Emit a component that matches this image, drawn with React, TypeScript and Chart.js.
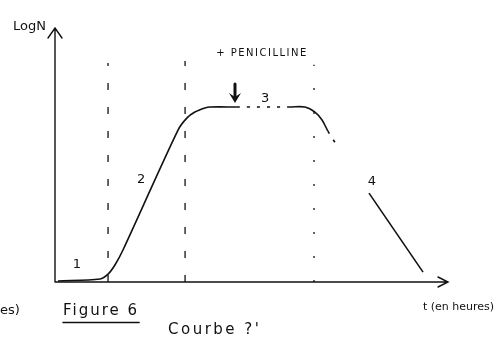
import { useEffect, useRef } from "react";
import { Chart, registerables } from "chart.js";

Chart.register(...registerables);

// Growth curve: time in hours, log N
const growthHours = [0.15, 2.29, 2.7, 3.05, 3.46, 6.26, 6.72, 7.12, 7.63, 7.89, 9.26, 11.96, 12.72, 13.23, 13.59, 13.89, 14.3];
const growthLogN = [0.04, 0.12, 0.31, 0.67, 1.26, 5.98, 6.46, 6.69, 6.85, 6.89, 6.89, 6.89, 6.89, 6.69, 6.38, 5.94, 5.43];
// segments of the curve drawn dashed (index of segment start)
const dashedSegments = [10, 15];

// Decline phase
const declineHours = [15.98, 18.73];
const declineLogN = [3.5, 0.39];

// Phase boundaries (vertical dashed lines)
const boundaryHours = [2.7, 6.62, 13.18];
const boundaryTop = [8.62, 8.7, 8.55];
const boundaryDash = [[7, 17], [7, 17], [2, 22]];

// Phase numbers
const phaseLabels = ["1", "2", "3", "4"];
const phaseLabelHours = [1.12, 4.38, 10.69, 16.13];
const phaseLabelLogN = [0.67, 4.02, 7.2, 3.94];

// Penicillin addition
const penicillinHour = 9.16;
const penicillinLogN = [7.8, 7.05];
const penicillinText = "+ PENICILLINE";

const xMax = 20;
const yMax = 10;

const FONT = "'DejaVu Sans', sans-serif";

const sketchPlugin = {
  id: "sketch",
  afterDatasetsDraw(chart: any) {
    const { ctx, chartArea, scales } = chart;
    const xs = scales.x;
    const ys = scales.y;
    const x0 = xs.getPixelForValue(0);
    const y0 = ys.getPixelForValue(0);
    const top = chartArea.top;
    const right = chartArea.right;
    ctx.save();
    ctx.strokeStyle = "#111";
    ctx.fillStyle = "#111";
    ctx.lineWidth = 1.4;
    ctx.lineCap = "round";

    // axes
    ctx.beginPath();
    ctx.moveTo(x0, y0);
    ctx.lineTo(x0, top);
    ctx.moveTo(x0, y0);
    ctx.lineTo(right, y0);
    // arrow heads
    ctx.moveTo(x0 - 7, top + 10);
    ctx.lineTo(x0, top);
    ctx.lineTo(x0 + 7, top + 10);
    ctx.moveTo(right - 10, y0 - 5);
    ctx.lineTo(right, y0);
    ctx.lineTo(right - 10, y0 + 5);
    ctx.stroke();

    // phase numbers
    ctx.font = `13px ${FONT}`;
    ctx.textAlign = "center";
    ctx.textBaseline = "middle";
    phaseLabels.forEach((lab, i) => {
      ctx.fillText(lab, xs.getPixelForValue(phaseLabelHours[i]), ys.getPixelForValue(phaseLabelLogN[i]));
    });

    // penicillin arrow
    const ax = xs.getPixelForValue(penicillinHour);
    const ayTop = ys.getPixelForValue(penicillinLogN[0]);
    const ayTip = ys.getPixelForValue(penicillinLogN[1]);
    ctx.lineWidth = 3;
    ctx.beginPath();
    ctx.moveTo(ax, ayTop);
    ctx.lineTo(ax, ayTip - 6);
    ctx.stroke();
    ctx.beginPath();
    ctx.moveTo(ax - 6, ayTip - 10);
    ctx.lineTo(ax, ayTip);
    ctx.lineTo(ax + 6, ayTip - 10);
    ctx.lineTo(ax, ayTip - 6);
    ctx.closePath();
    ctx.fill();

    ctx.font = `10px ${FONT}`;
    ctx.letterSpacing = "1.5px";
    ctx.fillText(penicillinText, ax + 27, top + 25);
    ctx.letterSpacing = "0px";

    // axis titles
    ctx.textAlign = "left";
    ctx.textBaseline = "alphabetic";
    ctx.font = `13px ${FONT}`;
    ctx.fillText("LogN", x0 - 42, top + 2);
    ctx.font = `11px ${FONT}`;
    ctx.fillText("t (en heures)", right - 25, y0 + 28);

    // caption
    ctx.font = `13px ${FONT}`;
    ctx.fillText("es)", 0, y0 + 32);
    ctx.font = `15px ${FONT}`;
    ctx.letterSpacing = "2px";
    ctx.fillText("Figure 6", x0 + 8, y0 + 33);
    const w = ctx.measureText("Figure 6").width;
    ctx.lineWidth = 1.5;
    ctx.beginPath();
    ctx.moveTo(x0 + 8, Math.round(y0 + 40) + 0.5);
    ctx.lineTo(x0 + 8 + w, Math.round(y0 + 40) + 0.5);
    ctx.stroke();
    ctx.letterSpacing = "2.5px";
    ctx.fillText("Courbe ?'", x0 + 113, y0 + 52);
    ctx.restore();
  },
};

export default function App() {
  const ref = useRef<HTMLCanvasElement>(null);

  useEffect(() => {
    if (!ref.current) return;
    const datasets: any[] = [
      {
        data: growthHours.map((t, i) => ({ x: t, y: growthLogN[i] })),
        borderColor: "#111",
        borderWidth: 1.6,
        pointRadius: 0,
        tension: 0.3,
        showLine: true,
        clip: false,
        segment: {
          borderDash: (c: any) => (dashedSegments.includes(c.p0DataIndex) ? [3, 7] : undefined),
        },
      },
      {
        data: declineHours.map((t, i) => ({ x: t, y: declineLogN[i] })),
        borderColor: "#111",
        borderWidth: 1.6,
        pointRadius: 0,
        showLine: true,
        clip: false,
      },
      ...boundaryHours.map((t, i) => ({
        data: [
          { x: t, y: 0 },
          { x: t, y: boundaryTop[i] },
        ],
        borderColor: "#111",
        borderWidth: 1.3,
        borderDash: boundaryDash[i],
        pointRadius: 0,
        showLine: true,
        clip: false,
      })),
    ];

    const chart = new Chart(ref.current, {
      type: "scatter",
      data: { datasets },
      options: {
        responsive: false,
        animation: false,
        events: [],
        layout: { padding: { left: 55, right: 55, top: 28, bottom: 59 } },
        plugins: { legend: { display: false }, tooltip: { enabled: false } },
        scales: {
          x: { type: "linear", min: 0, max: xMax, display: false },
          y: { type: "linear", min: 0, max: yMax, display: false },
        },
      },
      plugins: [sketchPlugin],
    });
    return () => chart.destroy();
  }, []);

  return (
    <div style={{ position: "fixed", left: 0, top: 0, width: 503, height: 341, background: "#fff" }}>
      <canvas ref={ref} width={503} height={341} />
    </div>
  );
}
